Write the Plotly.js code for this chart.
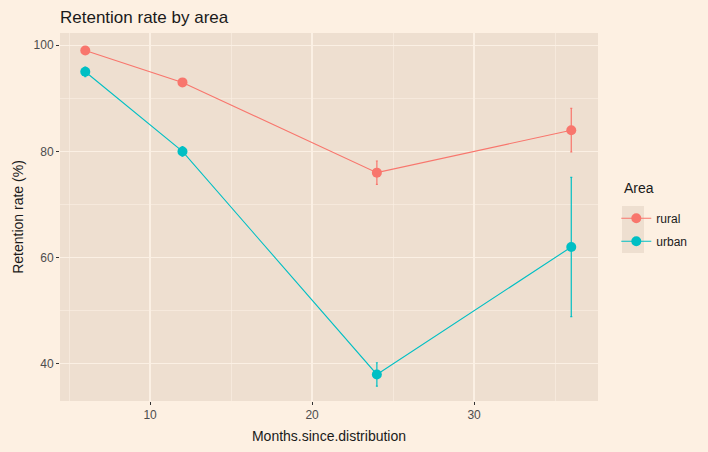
<!DOCTYPE html>
<html>
<head>
<meta charset="utf-8">
<script src="https://cdn.plot.ly/plotly-3.0.1.min.js"></script>
<style>html,body{margin:0;padding:0;background:#FDF0E2;}</style>
</head>
<body>
<div id="chart" style="width:708px;height:452px;"></div>
<script>
const months = [6, 12, 24, 36];
const ruralRate = [99, 93, 76, 84];
const ruralErr = [0.6, 0.7, 2.2, 4.1];
const urbanRate = [95, 80, 38, 62];
const urbanErr = [0.9, 0.9, 2.2, 13.1];

const pageBg = '#FDF0E2';
const panelBg = '#EEDFD0';
const gridCol = '#FBF0E4';

function series(name, y, err, color) {
  return {
    type: 'scatter', mode: 'lines+markers', name: name, legendgroup: name,
    x: months, y: y,
    line: {color: color, width: 1.1},
    marker: {color: color, size: 10},
    error_y: {type: 'data', array: err, visible: true, color: color, thickness: 1.2, width: 1}
  };
}

const data = [
  series('rural', ruralRate, ruralErr, '#F8766D'),
  series('urban', urbanRate, urbanErr, '#00BFC4')
];

const layout = {
  width: 708, height: 452,
  paper_bgcolor: pageBg, plot_bgcolor: panelBg,
  margin: {l: 60, r: 110, t: 33, b: 51},
  font: {family: 'Liberation Sans, Arial, sans-serif', color: '#4D4D4D', size: 12},
  title: {text: 'Retention rate by area', x: 0, xref: 'paper', xanchor: 'left', y: 0.962, yanchor: 'middle', font: {size: 17, color: '#1a1a1a'}},
  xaxis: {
    range: [4.44, 37.65], tickvals: [10, 20, 30], ticks: 'outside', ticklen: 3, tickcolor: '#333',
    gridcolor: gridCol, gridwidth: 1.2, zeroline: false, showline: false,
    minor: {tickvals: [5, 15, 25, 35], showgrid: true, gridcolor: gridCol, gridwidth: 0.6},
    title: {text: 'Months.since.distribution', font: {size: 14, color: '#1a1a1a'}, standoff: 9},
    tickfont: {size: 12, color: '#4D4D4D'}
  },
  yaxis: {
    range: [33.0, 102.3], tickvals: [40, 60, 80, 100], ticks: 'outside', ticklen: 3, tickcolor: '#333',
    gridcolor: gridCol, gridwidth: 1.2, zeroline: false, showline: false,
    minor: {tickvals: [50, 70, 90], showgrid: true, gridcolor: gridCol, gridwidth: 0.6},
    title: {text: 'Retention rate (%)', font: {size: 14, color: '#1a1a1a'}, standoff: 6},
    tickfont: {size: 12, color: '#4D4D4D'}
  },
  legend: {
    x: 1.034, xanchor: 'left', y: 0.536, yanchor: 'top',
    bgcolor: 'rgba(0,0,0,0)',
    font: {size: 12, color: '#1a1a1a'},
    itemwidth: 30, tracegroupgap: 4
  },
  annotations: [{
    text: 'Area', xref: 'paper', yref: 'paper', x: 1.0446, y: 0.579,
    xanchor: 'left', yanchor: 'middle', showarrow: false,
    font: {size: 14, color: '#1a1a1a'}
  }],
  shapes: [{
    type: 'rect', xref: 'paper', yref: 'paper', layer: 'below',
    x0: 1.0446, x1: 1.0855, y0: 0.402, y1: 0.530,
    fillcolor: panelBg, line: {width: 0}
  }],
  showlegend: true
};

Plotly.newPlot('chart', data, layout, {displayModeBar: false, staticPlot: true});
</script>
</body>
</html>
